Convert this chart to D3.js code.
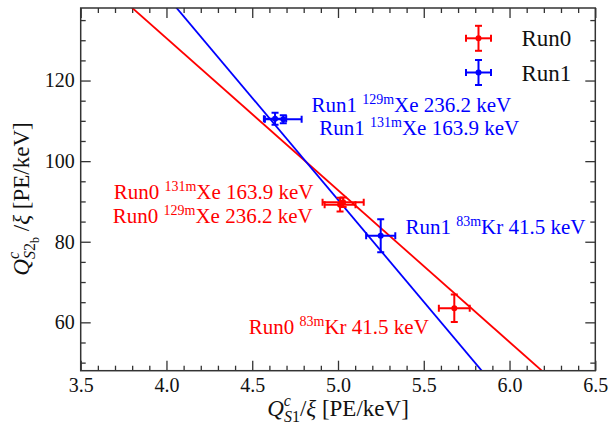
<!DOCTYPE html>
<html><head><meta charset="utf-8">
<script src="https://cdn.jsdelivr.net/npm/d3@7"></script>
</head><body>
<svg id="chart" width="611" height="426"></svg>
<script>
// ---------------- data ----------------
const seriesNames = ["Run0", "Run1"];
const seriesColors = ["#ff0000", "#0000ff"];

// Run0 points: 83mKr, 131mXe, 129mXe
const run0X    = [5.678, 5.012, 5.030];
const run0XErr = [0.090, 0.090, 0.120];
const run0Y    = [63.5, 89.2, 89.8];
const run0YErr = [3.4, 1.7, 1.2];

// Run1 points: 83mKr, 131mXe, 129mXe
const run1X    = [5.249, 4.681, 4.633];
const run1XErr = [0.085, 0.107, 0.065];
const run1Y    = [81.5, 110.4, 110.5];
const run1YErr = [4.1, 1.0, 1.5];

// linear fits  y = a + b*x
const fitIntercept = [281.3, 343.4];
const fitSlope     = [-37.7, -50.6];

const xDomain = [3.5, 6.5];
const yDomain = [48, 138];
const xMajorTicks = [3.5, 4.0, 4.5, 5.0, 5.5, 6.0, 6.5];
const yMajorTicks = [60, 80, 100, 120];

// annotations (data coordinates of text start / baseline)
const annSeries = [1, 1, 0, 0, 1, 0];
const annRun    = ["Run1", "Run1", "Run0", "Run0", "Run1", "Run0"];
const annIso    = ["129m", "131m", "131m", "129m", "83m", "83m"];
const annElem   = ["Xe", "Xe", "Xe", "Xe", "Kr", "Kr"];
const annEnergy = ["236.2 keV", "163.9 keV", "163.9 keV", "236.2 keV", "41.5 keV", "41.5 keV"];
const annX      = [4.845, 4.891, 3.692, 3.687, 5.393, 4.480];
const annY      = [112.2, 106.5, 90.6, 84.7, 81.85, 57.1];

// ---------------- layout ----------------
const FONT = "Liberation Serif";
document.body.style.margin = "0";
const W = 611, H = 426;
const m = {left: 80.7, right: 611 - 595.3, top: 8, bottom: 426 - 370.7};
const svg = d3.select("#chart");
const x = d3.scaleLinear().domain(xDomain).range([m.left, W - m.right]);
const y = d3.scaleLinear().domain(yDomain).range([H - m.bottom, m.top]);
const axisColor = "#333";

const xMinor = d3.range(35, 66).map(v => v / 10).filter(v => !xMajorTicks.some(t => Math.abs(t - v) < 1e-6));
const yMinor = d3.range(50, 140, 5).filter(v => !yMajorTicks.includes(v));

function styleAxis(g){
  g.attr("font-family", FONT);
  g.select(".domain").remove();
  g.selectAll("line").attr("stroke", axisColor).attr("stroke-width", 1.3);
  g.selectAll("text").attr("fill", "#111").attr("font-size", 20).attr("font-family", FONT);
}
const fmtX = d3.format(".1f");
// bottom
svg.append("g").attr("transform", `translate(0,${y.range()[0]})`)
  .call(d3.axisBottom(x).tickValues(xMajorTicks).tickSize(-10).tickPadding(7).tickFormat(fmtX)).call(styleAxis);
svg.append("g").attr("transform", `translate(0,${y.range()[0]})`)
  .call(d3.axisBottom(x).tickValues(xMinor).tickSize(-5).tickFormat("")).call(styleAxis);
// top
svg.append("g").attr("transform", `translate(0,${m.top})`)
  .call(d3.axisTop(x).tickValues(xMajorTicks).tickSize(-10).tickFormat("")).call(styleAxis);
svg.append("g").attr("transform", `translate(0,${m.top})`)
  .call(d3.axisTop(x).tickValues(xMinor).tickSize(-5).tickFormat("")).call(styleAxis);
// left
svg.append("g").attr("transform", `translate(${m.left},0)`)
  .call(d3.axisLeft(y).tickValues(yMajorTicks).tickSize(-10).tickPadding(6)).call(styleAxis);
svg.append("g").attr("transform", `translate(${m.left},0)`)
  .call(d3.axisLeft(y).tickValues(yMinor).tickSize(-5).tickFormat("")).call(styleAxis);
// right
svg.append("g").attr("transform", `translate(${W - m.right},0)`)
  .call(d3.axisRight(y).tickValues(yMajorTicks).tickSize(-10).tickFormat("")).call(styleAxis);
svg.append("g").attr("transform", `translate(${W - m.right},0)`)
  .call(d3.axisRight(y).tickValues(yMinor).tickSize(-5).tickFormat("")).call(styleAxis);

// clip
svg.append("clipPath").attr("id", "clip").append("rect")
  .attr("x", x.range()[0]).attr("y", y.range()[1])
  .attr("width", x.range()[1] - x.range()[0]).attr("height", y.range()[0] - y.range()[1]);

// fit lines
const plot = svg.append("g").attr("clip-path", "url(#clip)");
seriesNames.forEach((s, i) => {
  const pts = [xDomain[0], xDomain[1]].map(v => [v, fitIntercept[i] + fitSlope[i] * v]);
  plot.append("path")
    .attr("d", d3.line().x(d => x(d[0])).y(d => y(d[1]))(pts))
    .attr("stroke", seriesColors[i]).attr("stroke-width", 1.8).attr("fill", "none");
});

// error bars
const cap = 3.5;
function drawErr(g, px, py, color, hx, hy){
  const gg = g.append("g").attr("stroke", color).attr("stroke-width", 2).attr("fill", "none");
  gg.append("line").attr("x1", px - hx).attr("x2", px + hx).attr("y1", py).attr("y2", py);
  gg.append("line").attr("x1", px).attr("x2", px).attr("y1", py - hy).attr("y2", py + hy);
  gg.append("line").attr("x1", px - hx).attr("x2", px - hx).attr("y1", py - cap).attr("y2", py + cap);
  gg.append("line").attr("x1", px + hx).attr("x2", px + hx).attr("y1", py - cap).attr("y2", py + cap);
  gg.append("line").attr("x1", px - cap).attr("x2", px + cap).attr("y1", py - hy).attr("y2", py - hy);
  gg.append("line").attr("x1", px - cap).attr("x2", px + cap).attr("y1", py + hy).attr("y2", py + hy);
  g.append("circle").attr("cx", px).attr("cy", py).attr("r", 3).attr("fill", color);
}
const allX = [run0X, run1X], allXE = [run0XErr, run1XErr], allY = [run0Y, run1Y], allYE = [run0YErr, run1YErr];
seriesNames.forEach((s, i) => {
  allX[i].forEach((xv, j) => {
    const px = x(xv), py = y(allY[i][j]);
    drawErr(plot, px, py, seriesColors[i], x(xv + allXE[i][j]) - px, py - y(allY[i][j] + allYE[i][j]));
  });
});

// annotations
annRun.forEach((r, k) => {
  const t = svg.append("text").attr("x", x(annX[k])).attr("y", y(annY[k]))
    .attr("fill", seriesColors[annSeries[k]]).attr("font-size", 21).attr("font-family", FONT);
  t.append("tspan").text(r + " ");
  t.append("tspan").attr("dy", -8).attr("font-size", 14).text(annIso[k]);
  t.append("tspan").attr("dy", 8).text(annElem[k] + " " + annEnergy[k]);
});

// legend
const legX = 478.5, legY = [38.3, 72.5];
seriesNames.forEach((s, i) => {
  drawErr(svg, legX, legY[i], seriesColors[i], 12.5, 12.5);
  svg.append("text").attr("x", 521.5).attr("y", legY[i] + 8).attr("font-size", 23)
    .attr("fill", "#111").attr("font-family", FONT).text(s);
});

// frame
svg.append("rect").attr("x", x.range()[0]).attr("y", y.range()[1])
  .attr("width", x.range()[1] - x.range()[0]).attr("height", y.range()[0] - y.range()[1])
  .attr("fill", "none").attr("stroke", axisColor).attr("stroke-width", 1.5);

// axis titles
const xt = svg.append("text").attr("x", (x.range()[0] + x.range()[1]) / 2).attr("y", 416)
  .attr("text-anchor", "middle").attr("font-size", 23).attr("fill", "#111").attr("font-family", FONT);
xt.append("tspan").attr("font-style", "italic").text("Q");
xt.append("tspan").attr("font-style", "italic").attr("font-size", 16).attr("dy", -10).text("c");
xt.append("tspan").attr("font-style", "italic").attr("font-size", 16).attr("dx", -7).attr("dy", 16).text("S");
xt.append("tspan").attr("font-size", 16).text("1");
xt.append("tspan").attr("dy", -6).text("/");
xt.append("tspan").attr("font-style", "italic").text("ξ");
xt.append("tspan").text(" [PE/keV]");

const yt = svg.append("text").attr("transform", `translate(29,199) rotate(-90)`)
  .attr("text-anchor", "middle").attr("font-size", 23).attr("fill", "#111").attr("font-family", FONT);
yt.append("tspan").attr("font-style", "italic").text("Q");
yt.append("tspan").attr("font-style", "italic").attr("font-size", 16).attr("dy", -10).text("c");
yt.append("tspan").attr("font-style", "italic").attr("font-size", 16).attr("dx", -7).attr("dy", 16).text("S");
yt.append("tspan").attr("font-size", 16).text("2");
yt.append("tspan").attr("font-size", 12).attr("dy", 4).text("b");
yt.append("tspan").attr("dy", -10).text(" /");
yt.append("tspan").attr("font-style", "italic").text("ξ");
yt.append("tspan").text(" [PE/keV]");
</script>
</body></html>
